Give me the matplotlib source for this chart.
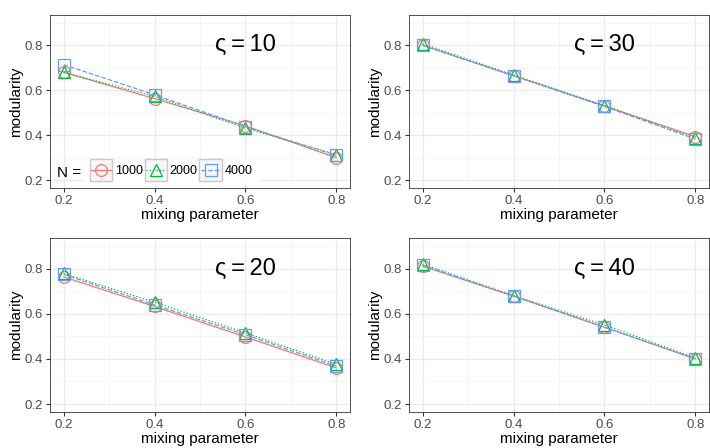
import numpy as np
import matplotlib
matplotlib.use('Agg')
import matplotlib.pyplot as plt
from matplotlib.legend_handler import HandlerLine2D
from matplotlib.patches import Rectangle
from matplotlib.lines import Line2D

plt.rcParams['font.family'] = ['Liberation Sans', 'DejaVu Sans']

# mixing parameter values
mu = [0.2, 0.4, 0.6, 0.8]
sizes = ['1000', '2000', '4000']

# modularity for each varsigma, one list per network size N
mod_10 = {'1000': [0.680, 0.563, 0.441, 0.300],
          '2000': [0.680, 0.573, 0.431, 0.314],
          '4000': [0.714, 0.580, 0.438, 0.310]}
mod_20 = {'1000': [0.763, 0.632, 0.497, 0.360],
          '2000': [0.778, 0.651, 0.515, 0.376],
          '4000': [0.774, 0.639, 0.507, 0.368]}
mod_30 = {'1000': [0.800, 0.665, 0.530, 0.394],
          '2000': [0.807, 0.668, 0.532, 0.387],
          '4000': [0.800, 0.664, 0.528, 0.383]}
mod_40 = {'1000': [0.810, 0.678, 0.540, 0.400],
          '2000': [0.820, 0.680, 0.550, 0.405],
          '4000': [0.815, 0.678, 0.540, 0.400]}

colors = {'1000': '#F8766D', '2000': '#00BA38', '4000': '#619CFF'}
markers = {'1000': 'o', '2000': '^', '4000': 's'}
styles = {'1000': '-', '2000': ':', '4000': '--'}


class KeyHandler(HandlerLine2D):
    # legend key with grey box behind, like ggplot
    def create_artists(self, legend, orig_handle, xdescent, ydescent,
                       width, height, fontsize, trans):
        arts = super().create_artists(legend, orig_handle, xdescent, ydescent,
                                      width, height, fontsize, trans)
        side = height + 10
        box = Rectangle((-xdescent + width / 2 - side / 2, -ydescent + height / 2 - side / 2),
                        side, side, facecolor='#F7F7F7', edgecolor='#C8C8C8',
                        linewidth=1.0, transform=trans)
        return [box] + arts


fig = plt.figure(figsize=(7.1, 4.48), dpi=100)
W, H = 710.0, 448.0
boxes = [(50, 15, 300, 173), (409, 15, 300, 173),
         (50, 238, 300, 174), (409, 238, 300, 174)]
panels = [(10, mod_10), (30, mod_30), (20, mod_20), (40, mod_40)]

for i, ((l, t, w, h), (sig, data)) in enumerate(zip(boxes, panels)):
    ax = fig.add_axes([l / W, 1 - (t + h) / H, w / W, h / H])
    ax.set_xlim(0.17, 0.83)
    ax.set_ylim(0.165, 0.935)
    ax.set_xticks([0.2, 0.4, 0.6, 0.8])
    ax.set_yticks([0.2, 0.4, 0.6, 0.8])
    ax.set_xticks([0.3, 0.5, 0.7], minor=True)
    ax.set_yticks([0.3, 0.5, 0.7, 0.9], minor=True)
    ax.grid(which='major', color='#EBEBEB', linewidth=1.0)
    ax.grid(which='minor', color='#F4F4F4', linewidth=0.6)
    ax.set_axisbelow(True)
    ax.tick_params(which='minor', length=0)
    ax.tick_params(which='major', length=3, width=0.8, color='#333333',
                   labelsize=9.5, labelcolor='#4D4D4D', pad=2)
    for s in ax.spines.values():
        s.set_color('#333333')
        s.set_linewidth(0.6)

    for n in sizes:
        ax.plot(mu, data[n], color=colors[n], linestyle=styles[n], linewidth=0.9,
                marker=markers[n], markersize=8.5, markerfacecolor='none',
                markeredgewidth=0.9, label=n)

    ax.text(0.6, 0.8, 'ς\u2009=\u2009%d' % sig, fontsize=17, ha='center', va='center')
    ax.set_xlabel('mixing parameter', fontsize=11, labelpad=1)
    ax.set_ylabel('modularity', fontsize=11, labelpad=1.5)

    if i == 0:
        handles = [Line2D([], [], color=colors[n], linestyle=styles[n], linewidth=0.9,
                          marker=markers[n], markersize=8.5, markerfacecolor='none',
                          markeredgewidth=0.9) for n in sizes]
        leg = ax.legend(handles, sizes, ncol=3, loc='lower left',
                        bbox_to_anchor=(0.095, -0.01), frameon=True, fancybox=False,
                        edgecolor='none', facecolor='white', framealpha=1,
                        fontsize=9, handlelength=1.6, handletextpad=0.3,
                        columnspacing=0.25, borderpad=0.5,
                        handler_map={Line2D: KeyHandler()})
        ax.text(0.022, 0.085, 'N =', transform=ax.transAxes, fontsize=11,
                ha='left', va='center', zorder=10)

fig.savefig('out.png', dpi=100)
